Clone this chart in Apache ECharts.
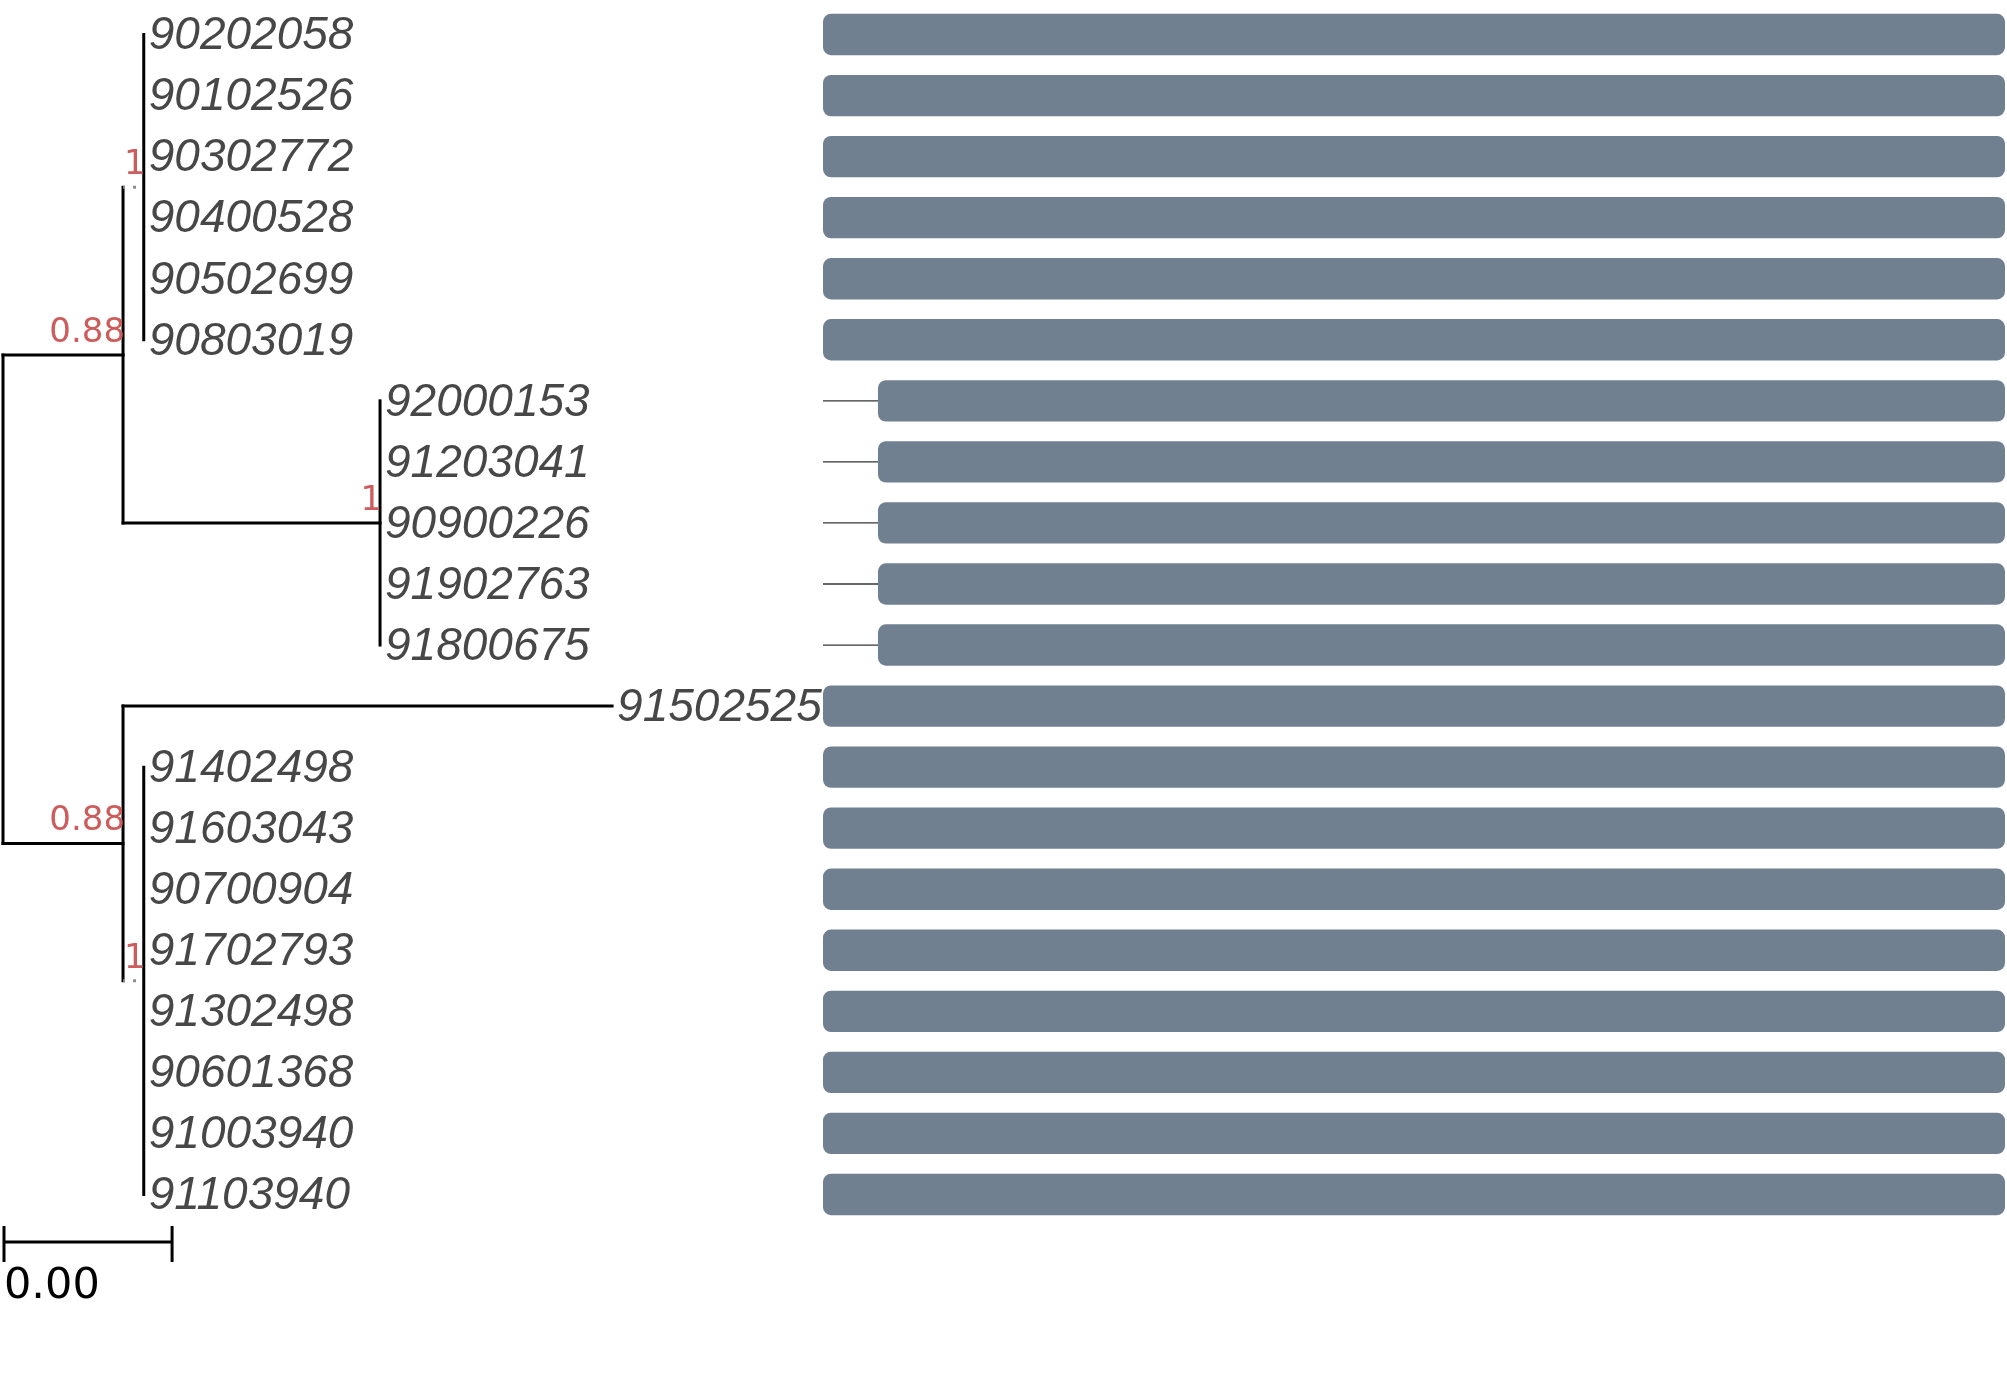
<!DOCTYPE html>
<html>
<head>
<meta charset="utf-8">
<script src="https://cdn.jsdelivr.net/npm/echarts@6/dist/echarts.min.js"></script>
<style>
  html, body { margin: 0; padding: 0; background: #ffffff; }
  #chart { width: 2007px; height: 1397px; }
</style>
</head>
<body>
<div id="chart"></div>
<script>
// ---------------- data ----------------
// tips, top to bottom
const leafNames = [
  '90202058','90102526','90302772','90400528','90502699','90803019',
  '92000153','91203041','90900226','91902763','91800675',
  '91502525',
  '91402498','91603043','90700904','91702793','91302498','90601368','91003940','91103940'
];
const leafParent = ['A1','A1','A1','A1','A1','A1','B','B','B','B','B','C','D','D','D','D','D','D','D','D'];
const leafLength = [0,0,0,0,0,0, 0,0,0,0,0, 0.01157, 0,0,0,0,0,0,0,0];

// internal nodes
const nodeIds     = ['root','A','A1','B','C','D'];
const nodeParent  = [null,'root','A','A','root','C'];
const nodeLength  = [0, 0.00284, 0.00049, 0.00608, 0.00284, 0.00049];
const nodeSupport = [null, 0.88, 1, 1, 0.88, 1];

// scale bar
const scaleBarLength = 0.004;
const scaleBarLabel = '0.00';

// bar panel (one bar per tip)
const barStart = [0,0,0,0,0,0, 4.65,4.65,4.65,4.65,4.65, 0, 0,0,0,0,0,0,0,0];
const barEnd   = [100,100,100,100,100,100, 100,100,100,100,100, 100, 100,100,100,100,100,100,100,100];
const barAxisMin = 0, barAxisMax = 100;

// ---------------- tree layout (from data) ----------------
const nodes = {};
nodeIds.forEach((id, i) => {
  nodes[id] = { id, parent: nodeParent[i], len: nodeLength[i], support: nodeSupport[i], children: [] };
});
const leaves = leafNames.map((name, i) => ({ id: name, name, parent: leafParent[i], len: leafLength[i], y: i, children: [], leaf: true }));
leaves.forEach(l => nodes[l.parent].children.push(l));
nodeIds.forEach(id => { const p = nodes[id].parent; if (p) nodes[p].children.push(nodes[id]); });

function setX(n, px) { n.x = px + n.len; n.children.forEach(c => setX(c, n.x)); }
function setY(n) {
  if (n.leaf) return n.y;
  const ys = n.children.map(setY);
  n.y = ys.reduce((a, b) => a + b, 0) / ys.length;
  return n.y;
}
const root = nodes['root'];
setX(root, 0);
setY(root);

const segments = []; // [x1,y1,x2,y2,dotted]
function collect(n, parent) {
  if (parent && n.len > 0) {
    segments.push([parent.x, n.y, n.x, n.y, n.len < 0.001 ? 1 : 0]);
  }
  if (n.children.length) {
    const ys = n.children.map(c => c.y);
    segments.push([n.x, Math.min(...ys), n.x, Math.max(...ys), 0]);
    n.children.forEach(c => collect(c, n));
  }
}
collect(root, null);

const supportNodes = nodeIds.map(id => nodes[id]).filter(n => n.support != null);

// ---------------- chart ----------------
const chart = echarts.init(document.getElementById('chart'), null, { renderer: 'canvas' });
const nLeaves = leafNames.length;
const yAxisCommon = { type: 'value', min: -0.5, max: nLeaves - 0.5, inverse: true, show: false };

const option = {
  backgroundColor: '#ffffff',
  animation: false,
  grid: [
    { left: 3, top: 4, width: 820, height: 1221, outerBoundsMode: 'none' },
    { left: 823, top: 4, width: 1182, height: 1221, outerBoundsMode: 'none' }
  ],
  xAxis: [
    { type: 'value', gridIndex: 0, min: 0, max: 0.0194, show: false },
    { type: 'value', gridIndex: 1, min: barAxisMin, max: barAxisMax, show: false }
  ],
  yAxis: [
    Object.assign({ gridIndex: 0 }, yAxisCommon),
    Object.assign({ gridIndex: 1 }, yAxisCommon)
  ],
  series: [
    {
      type: 'custom', xAxisIndex: 0, yAxisIndex: 0, silent: true,
      data: segments,
      renderItem: function (params, api) {
        const p1 = api.coord([api.value(0), api.value(1)]);
        const p2 = api.coord([api.value(2), api.value(3)]);
        const dotted = api.value(4) === 1;
        return {
          type: 'line',
          shape: { x1: p1[0], y1: p1[1], x2: p2[0], y2: p2[1] },
          style: dotted
            ? { stroke: '#8c8c8c', lineWidth: 3, lineDash: [3, 8], lineDashOffset: -10, lineCap: 'butt' }
            : { stroke: '#000000', lineWidth: 3, lineCap: 'square' }
        };
      }
    },
    {
      type: 'custom', xAxisIndex: 0, yAxisIndex: 0, silent: true,
      data: leaves.map(l => [l.x, l.y]),
      renderItem: function (params, api) {
        const p = api.coord([api.value(0), api.value(1)]);
        return {
          type: 'text',
          style: {
            text: leafNames[params.dataIndex],
            x: p[0] + 5, y: p[1] + 2,
            fill: '#474747',
            fontFamily: 'Liberation Sans', fontStyle: 'italic', fontSize: 46,
            align: 'left', verticalAlign: 'middle'
          }
        };
      }
    },
    {
      type: 'custom', xAxisIndex: 0, yAxisIndex: 0, silent: true,
      data: supportNodes.map(n => [n.x, n.y]),
      renderItem: function (params, api) {
        const p = api.coord([api.value(0), api.value(1)]);
        return {
          type: 'text',
          style: {
            text: String(supportNodes[params.dataIndex].support),
            x: p[0] + 2, y: p[1] - 22,
            fill: '#CD5C5C',
            fontFamily: 'DejaVu Sans', fontSize: 34,
            align: 'right', verticalAlign: 'middle'
          }
        };
      }
    },
    {
      type: 'custom', xAxisIndex: 0, yAxisIndex: 0, silent: true,
      data: [[0, scaleBarLength, nLeaves - 1]],
      renderItem: function (params, api) {
        const a = api.coord([api.value(0), api.value(2)]);
        const b = api.coord([api.value(1), api.value(2)]);
        const y = a[1] + 47.5;
        const st = { stroke: '#000000', lineWidth: 3 };
        return {
          type: 'group',
          children: [
            { type: 'line', shape: { x1: a[0], y1: y, x2: b[0], y2: y }, style: st },
            { type: 'line', shape: { x1: a[0] + 1, y1: y - 16, x2: a[0] + 1, y2: y + 20 }, style: st },
            { type: 'line', shape: { x1: b[0], y1: y - 16, x2: b[0], y2: y + 20 }, style: st },
            { type: 'text', style: { text: scaleBarLabel, x: a[0] + 1, y: y + 45, fill: '#000000',
              fontFamily: 'DejaVu Sans', fontSize: 43, align: 'left', verticalAlign: 'middle' } }
          ]
        };
      }
    },
    {
      type: 'custom', xAxisIndex: 1, yAxisIndex: 1, silent: true,
      data: leafNames.map((_, i) => [barStart[i], barEnd[i], i]),
      renderItem: function (params, api) {
        const s = api.coord([api.value(0), api.value(2)]);
        const e = api.coord([api.value(1), api.value(2)]);
        const h = api.size([0, 1])[1] * 0.677;
        const children = [];
        if (api.value(0) > barAxisMin) {
          const m = api.coord([barAxisMin, api.value(2)]);
          children.push({ type: 'line', shape: { x1: m[0], y1: m[1], x2: s[0], y2: s[1] },
            style: { stroke: '#333333', lineWidth: 1.3 } });
        }
        children.push({
          type: 'rect',
          shape: { x: s[0], y: s[1] - h / 2, width: e[0] - s[0], height: h, r: 8 },
          style: { fill: '#708090' }
        });
        return { type: 'group', children };
      }
    }
  ]
};
chart.setOption(option);
</script>
</body>
</html>
